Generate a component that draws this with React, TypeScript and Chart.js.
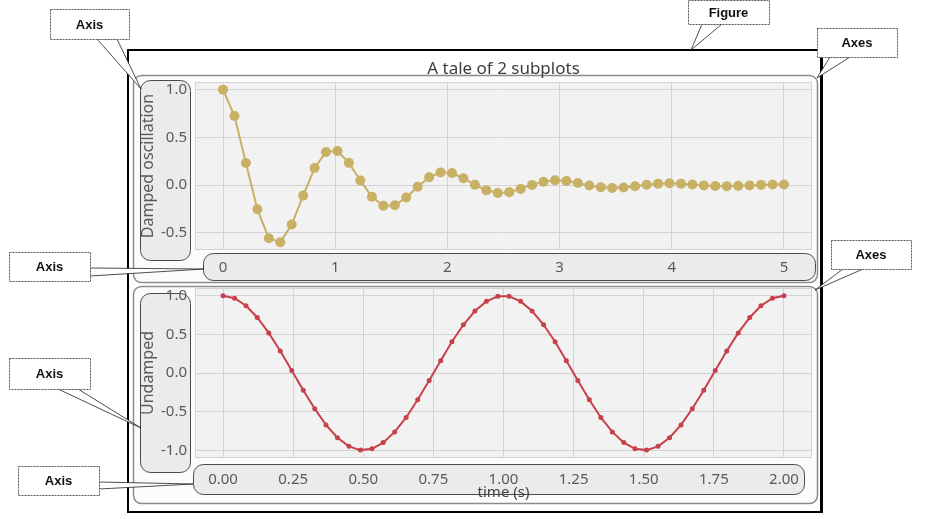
import React, { useEffect, useRef } from "react";
import { Chart, registerables } from "chart.js";
Chart.register(...registerables);

// ---------- data ----------
const TOP_T = [0, 0.102, 0.204, 0.306, 0.408, 0.51, 0.612, 0.714, 0.816, 0.918, 1.02, 1.122, 1.224, 1.327, 1.429, 1.531, 1.633, 1.735, 1.837, 1.939, 2.041, 2.143, 2.245, 2.347, 2.449, 2.551, 2.653, 2.755, 2.857, 2.959, 3.061, 3.163, 3.265, 3.367, 3.469, 3.571, 3.673, 3.776, 3.878, 3.98, 4.082, 4.184, 4.286, 4.388, 4.49, 4.592, 4.694, 4.796, 4.898, 5.0];
const TOP_Y = [1.0, 0.724, 0.232, -0.254, -0.557, -0.599, -0.413, -0.11, 0.179, 0.347, 0.357, 0.233, 0.048, -0.122, -0.216, -0.212, -0.13, -0.017, 0.082, 0.133, 0.126, 0.072, 0.003, -0.055, -0.082, -0.074, -0.04, 0.002, 0.035, 0.05, 0.043, 0.022, -0.004, -0.023, -0.031, -0.025, -0.012, 0.004, 0.015, 0.019, 0.015, 0.006, -0.003, -0.009, -0.011, -0.008, -0.003, 0.002, 0.006, 0.007];
const BOTTOM_T = [0, 0.041, 0.082, 0.122, 0.163, 0.204, 0.245, 0.286, 0.327, 0.367, 0.408, 0.449, 0.49, 0.531, 0.571, 0.612, 0.653, 0.694, 0.735, 0.776, 0.816, 0.857, 0.898, 0.939, 0.98, 1.02, 1.061, 1.102, 1.143, 1.184, 1.224, 1.265, 1.306, 1.347, 1.388, 1.429, 1.469, 1.51, 1.551, 1.592, 1.633, 1.673, 1.714, 1.755, 1.796, 1.837, 1.878, 1.918, 1.959, 2.0];
const BOTTOM_Y = [1.0, 0.967, 0.871, 0.718, 0.519, 0.285, 0.032, -0.222, -0.463, -0.672, -0.838, -0.949, -0.998, -0.981, -0.901, -0.762, -0.575, -0.347, -0.096, 0.16, 0.404, 0.624, 0.802, 0.927, 0.992, 0.992, 0.927, 0.802, 0.624, 0.404, 0.16, -0.096, -0.347, -0.575, -0.762, -0.901, -0.981, -0.998, -0.949, -0.838, -0.672, -0.463, -0.222, 0.032, 0.285, 0.519, 0.718, 0.871, 0.967, 1.0];

const TOP_X_TICKS = [0, 1, 2, 3, 4, 5];
const TOP_Y_TICKS = [-0.5, 0, 0.5, 1.0];
const BOTTOM_X_TICKS = [0, 0.25, 0.5, 0.75, 1.0, 1.25, 1.5, 1.75, 2.0];
const BOTTOM_Y_TICKS = [-1.0, -0.5, 0, 0.5, 1.0];
const TOP_X_RANGE = [-0.25, 5.25];
const TOP_Y_RANGE = [-0.68, 1.08];
const BOTTOM_X_RANGE = [-0.1, 2.1];
const BOTTOM_Y_RANGE = [-1.1, 1.1];

const TITLE = "A tale of 2 subplots";
const TOP_Y_LABEL = "Damped oscillation";
const BOTTOM_Y_LABEL = "Undamped";
const X_LABEL = "time (s)";

// ---------- styles ----------
const FONT = "'Noto Sans', 'Open Sans', sans-serif";
const GRID = "#d3d3d3";
const PLOT_BG = "#f2f2f2";
const TICK_COLOR = "#5a5a5a";
const TOP_COLOR = "#c8b064";
const BOTTOM_COLOR = "#c8414a";

function rr(ctx: CanvasRenderingContext2D, x: number, y: number, w: number, h: number, r: number) {
  ctx.beginPath();
  ctx.moveTo(x + r, y);
  ctx.lineTo(x + w - r, y);
  ctx.arcTo(x + w, y, x + w, y + r, r);
  ctx.lineTo(x + w, y + h - r);
  ctx.arcTo(x + w, y + h, x + w - r, y + h, r);
  ctx.lineTo(x + r, y + h);
  ctx.arcTo(x, y + h, x, y + h - r, r);
  ctx.lineTo(x, y + r);
  ctx.arcTo(x, y, x + r, y, r);
  ctx.closePath();
}

const decorPlugin = {
  id: "decor",
  beforeDraw(chart: any, _args: any, opts: any) {
    const ctx = chart.ctx as CanvasRenderingContext2D;
    const ca = chart.chartArea;
    ctx.save();
    const a = opts.axesBox;
    rr(ctx, a[0] + 0.5, a[1] + 0.5, a[2] - a[0], a[3] - a[1], 8);
    ctx.fillStyle = "#fcfcfc";
    ctx.fill();
    ctx.strokeStyle = "#8c8c8c";
    ctx.lineWidth = 1.5;
    ctx.stroke();
    ctx.fillStyle = PLOT_BG;
    ctx.fillRect(ca.left, ca.top, ca.right - ca.left, ca.bottom - ca.top);
    for (const b of [opts.yBox, opts.xBox]) {
      rr(ctx, b[0] + 0.5, b[1] + 0.5, b[2] - b[0], b[3] - b[1], 10);
      ctx.fillStyle = "#ebebeb";
      ctx.fill();
      ctx.strokeStyle = "#4a4a4a";
      ctx.lineWidth = 1;
      ctx.stroke();
    }
    ctx.restore();
  },
  beforeDatasetsDraw(chart: any) {
    const ctx = chart.ctx as CanvasRenderingContext2D;
    const ca = chart.chartArea;
    ctx.save();
    ctx.strokeStyle = GRID;
    ctx.lineWidth = 1;
    ctx.strokeRect(Math.round(ca.left) + 0.5, Math.round(ca.top) + 0.5, Math.round(ca.right - ca.left) - 1, Math.round(ca.bottom - ca.top) - 1);
    ctx.restore();
  },
  afterDraw(chart: any, _args: any, opts: any) {
    if (!opts.title) return;
    const ctx = chart.ctx as CanvasRenderingContext2D;
    const ca = chart.chartArea;
    ctx.save();
    ctx.font = `17px ${FONT}`;
    ctx.fillStyle = "#3c3c3c";
    ctx.textAlign = "center";
    ctx.textBaseline = "alphabetic";
    ctx.fillText(opts.title, (ca.left + ca.right) / 2, opts.titleY);
    ctx.restore();
  },
};

function makeConfig(p: {
  xs: number[]; ys: number[]; color: string; radius: number;
  xTicks: number[]; yTicks: number[]; xRange: number[]; yRange: number[];
  xDigits: number; yLabel: string; xLabel?: string; xHeight: number; xTickPad: number;
  padding: any; decor: any;
}) {
  return {
    type: "line" as const,
    data: {
      datasets: [
        {
          data: p.xs.map((x, i) => ({ x, y: p.ys[i] })),
          borderColor: p.color,
          backgroundColor: p.color,
          borderWidth: 2,
          pointRadius: p.radius,
          pointBorderWidth: 0,
          pointBackgroundColor: p.color,
          tension: 0,
        },
      ],
    },
    options: {
      animation: false,
      responsive: false,
      maintainAspectRatio: false,
      events: [],
      layout: { padding: p.padding },
      plugins: { legend: { display: false }, tooltip: { enabled: false }, title: { display: false }, decor: p.decor },
      scales: {
        x: {
          type: "linear",
          min: p.xRange[0],
          max: p.xRange[1],
          afterBuildTicks: (s: any) => { s.ticks = p.xTicks.map((v) => ({ value: v })); },
          afterFit: (s: any) => { s.height = p.xHeight; s.paddingLeft = 0; s.paddingRight = 0; },
          grid: { color: GRID, drawTicks: false },
          border: { display: false },
          ticks: {
            padding: p.xTickPad,
            color: TICK_COLOR,
            font: { family: FONT, size: 15 },
            maxRotation: 0,
            autoSkip: false,
            callback: (v: any) => Number(v).toFixed(p.xDigits),
          },
          title: p.xLabel
            ? { display: true, text: p.xLabel, color: "#444", font: { family: FONT, size: 15 }, padding: { top: 0, bottom: 0 } }
            : { display: false },
        },
        y: {
          type: "linear",
          min: p.yRange[0],
          max: p.yRange[1],
          afterBuildTicks: (s: any) => { s.ticks = p.yTicks.map((v) => ({ value: v })); },
          afterFit: (s: any) => { s.width = 57; s.paddingTop = 0; s.paddingBottom = 0; },
          grid: { color: GRID, drawTicks: false },
          border: { display: false },
          ticks: {
            padding: 8,
            color: TICK_COLOR,
            font: { family: FONT, size: 15 },
            callback: (v: any) => Number(v).toFixed(1),
          },
          title: { display: true, text: p.yLabel, color: "#5a5a5a", font: { family: FONT, size: 16 }, padding: { top: 1, bottom: 0 } },
        },
      },
    },
    plugins: [decorPlugin],
  };
}

function Callout(p: { box: number[]; base: number[][]; tip: number[]; text: string }) {
  const [x0, y0, x1, y1] = p.box;
  const pts = [p.base[0], p.tip, p.base[1]].map((q) => q.join(",")).join(" ");
  return (
    <g>
      <polygon points={pts} fill="#fff" stroke="#222" strokeWidth={0.8} />
      <rect x={x0 + 0.5} y={y0 + 0.5} width={x1 - x0} height={y1 - y0} fill="#fff" stroke="#555" strokeWidth={1} strokeDasharray="2 1" />
      <text x={(x0 + x1) / 2} y={(y0 + y1) / 2 + 4.5} textAnchor="middle" fontFamily="'Liberation Sans', Arial, sans-serif" fontWeight="bold" fontSize={13} fill="#111">
        {p.text}
      </text>
    </g>
  );
}

export default function App() {
  const topRef = useRef<HTMLCanvasElement>(null);
  const botRef = useRef<HTMLCanvasElement>(null);

  useEffect(() => {
    const top = new Chart(
      topRef.current as HTMLCanvasElement,
      makeConfig({
        xs: TOP_T, ys: TOP_Y, color: TOP_COLOR, radius: 5,
        xTicks: TOP_X_TICKS, yTicks: TOP_Y_TICKS, xRange: TOP_X_RANGE, yRange: TOP_Y_RANGE,
        xDigits: 0, yLabel: TOP_Y_LABEL, xHeight: 30, xTickPad: 9,
        padding: { left: 8, right: 8, top: 30, bottom: 4 },
        decor: { axesBox: [3, 23, 687, 230], yBox: [10, 28, 60, 208], xBox: [73, 201, 685, 228], title: TITLE, titleY: 22 },
      }) as any
    );
    const bot = new Chart(
      botRef.current as HTMLCanvasElement,
      makeConfig({
        xs: BOTTOM_T, ys: BOTTOM_Y, color: BOTTOM_COLOR, radius: 2.5,
        xTicks: BOTTOM_X_TICKS, yTicks: BOTTOM_Y_TICKS, xRange: BOTTOM_X_RANGE, yRange: BOTTOM_Y_RANGE,
        xDigits: 2, yLabel: BOTTOM_Y_LABEL, xLabel: X_LABEL, xHeight: 44, xTickPad: 13,
        padding: { left: 8, right: 8, top: 3, bottom: 6 },
        decor: { axesBox: [3, 2, 687, 219], yBox: [10, 9, 60, 188], xBox: [63, 180, 674, 210] },
      }) as any
    );
    return () => { top.destroy(); bot.destroy(); };
  }, []);

  return (
    <div style={{ position: "absolute", left: 0, top: 0, width: 925, height: 519, background: "#fff", overflow: "hidden" }}>
      <div style={{ position: "absolute", left: 127, top: 49, width: 696, height: 464, boxSizing: "border-box", borderStyle: "solid", borderColor: "#000", borderWidth: "2px 3px 2px 2px" }} />
      <canvas ref={topRef} width={690} height={232} style={{ position: "absolute", left: 130, top: 52, width: 690, height: 232 }} />
      <canvas ref={botRef} width={690} height={224} style={{ position: "absolute", left: 130, top: 284, width: 690, height: 224 }} />
      <svg width={925} height={519} style={{ position: "absolute", left: 0, top: 0, pointerEvents: "none" }}>
        <Callout box={[50, 9, 129, 39]} base={[[97, 39], [117, 39]]} tip={[141, 89]} text="Axis" />
        <Callout box={[688, 0, 769, 24]} base={[[702, 24], [722, 24]]} tip={[691, 50]} text="Figure" />
        <Callout box={[817, 28, 897, 57]} base={[[830, 57], [850, 57]]} tip={[817, 78]} text="Axes" />
        <Callout box={[9, 252, 90, 281]} base={[[90, 268], [90, 276]]} tip={[204, 269]} text="Axis" />
        <Callout box={[831, 240, 911, 269]} base={[[843, 269], [863, 269]]} tip={[815, 290]} text="Axes" />
        <Callout box={[9, 358, 90, 389]} base={[[58, 389], [78, 389]]} tip={[141, 428]} text="Axis" />
        <Callout box={[18, 466, 99, 495]} base={[[99, 482], [99, 489]]} tip={[193, 484]} text="Axis" />
      </svg>
    </div>
  );
}
